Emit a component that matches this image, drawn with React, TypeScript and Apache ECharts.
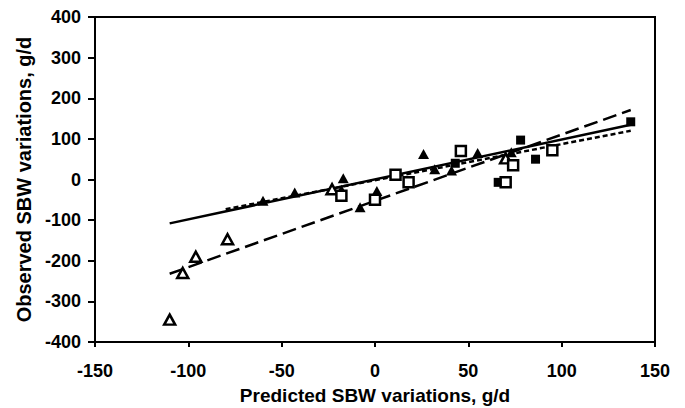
import React, { useEffect, useRef } from "react";
import * as echarts from "echarts";

const xTicks = [-150, -100, -50, 0, 50, 100, 150];
const yTicks = [-400, -300, -200, -100, 0, 100, 200, 300, 400];

const filledTriangles = [
  [-60, -52], [-43, -32], [-17, 3], [-18, -25], [1, -28], [-8, -68],
  [26, 63], [55, 65], [32, 25], [41, 22], [73, 67],
];
const openTriangles = [
  [-110, -345], [-103, -230], [-96, -190], [-79, -147], [-23, -24], [70, 52],
];
const filledSquares = [
  [66, -7], [43, 40], [78, 97], [86, 50], [137, 142],
];
const openSquares = [
  [-18, -40], [0, -50], [11, 12], [18, -7], [46, 70], [70, -7], [74, 35], [95, 72],
];

const solidLine = [[-110, -108], [137, 135]];
const dottedLine = [[-80, -73], [137, 120]];
const dashedLine = [[-110, -232], [137, 171]];

const FONT = "Liberation Sans, Arial, sans-serif";

export default function App() {
  const ref = useRef<HTMLDivElement>(null);
  useEffect(() => {
    if (!ref.current) return;
    const chart = echarts.init(ref.current, null, { renderer: "svg" });
    const lineSeries = (data: number[][], type: any) => ({
      type: "line",
      data,
      symbol: "none",
      silent: true,
      lineStyle: { color: "#000", width: 2.5, type, opacity: 1 },
      z: 1,
    });
    chart.setOption({
      animation: false,
      backgroundColor: "#fff",
      grid: {
        left: 95, right: 30, top: 17, bottom: 66, show: true, borderColor: "#000", borderWidth: 2,
        containLabel: false, outerBoundsMode: "none",
      },
      xAxis: {
        type: "value",
        min: -150,
        max: 150,
        interval: 50,
        name: "Predicted SBW variations, g/d",
        nameLocation: "middle",
        nameGap: 44,
        nameTextStyle: { fontFamily: FONT, fontWeight: "bold", fontSize: 19, color: "#000" },
        axisLine: { onZero: false, lineStyle: { color: "#000", width: 2 } },
        axisTick: { show: true, inside: false, length: 5, lineStyle: { color: "#000", width: 2 } },
        axisLabel: {
          fontFamily: FONT, fontWeight: "bold", fontSize: 18, color: "#000", margin: 20,
          formatter: (v: number) => (xTicks.includes(v) ? String(v) : ""),
        },
        splitLine: { show: false },
      },
      yAxis: {
        type: "value",
        min: -400,
        max: 400,
        interval: 100,
        name: "Observed SBW variations, g/d",
        nameLocation: "middle",
        nameGap: 60,
        nameTextStyle: { fontFamily: FONT, fontWeight: "bold", fontSize: 20, color: "#000" },
        axisLine: { onZero: false, lineStyle: { color: "#000", width: 2 } },
        axisTick: { show: true, inside: false, length: 7, lineStyle: { color: "#000", width: 2 } },
        axisLabel: {
          fontFamily: FONT, fontWeight: "bold", fontSize: 18, color: "#000", margin: 14,
          formatter: (v: number) => (yTicks.includes(v) ? String(v) : ""),
        },
        splitLine: { show: false },
      },
      series: [
        lineSeries(solidLine, "solid"),
        lineSeries(dottedLine, [5, 3]),
        lineSeries(dashedLine, [14, 6]),
        {
          type: "scatter", data: filledTriangles, symbol: "triangle", symbolSize: [11, 10],
          itemStyle: { color: "#000", opacity: 1 }, z: 3,
        },
        {
          type: "scatter", data: openTriangles, symbol: "triangle", symbolSize: [11, 10],
          itemStyle: { color: "#fff", borderColor: "#000", borderWidth: 2.5, opacity: 1 }, z: 3,
        },
        {
          type: "scatter", data: filledSquares, symbol: "rect", symbolSize: 9,
          itemStyle: { color: "#000", opacity: 1 }, z: 3,
        },
        {
          type: "scatter", data: openSquares, symbol: "rect", symbolSize: 10,
          itemStyle: { color: "#fff", borderColor: "#000", borderWidth: 2.5, opacity: 1 }, z: 3,
        },
      ],
    });
    return () => chart.dispose();
  }, []);
  return <div ref={ref} style={{ width: 685, height: 408, marginLeft: -8, marginTop: -8 }} />;
}
